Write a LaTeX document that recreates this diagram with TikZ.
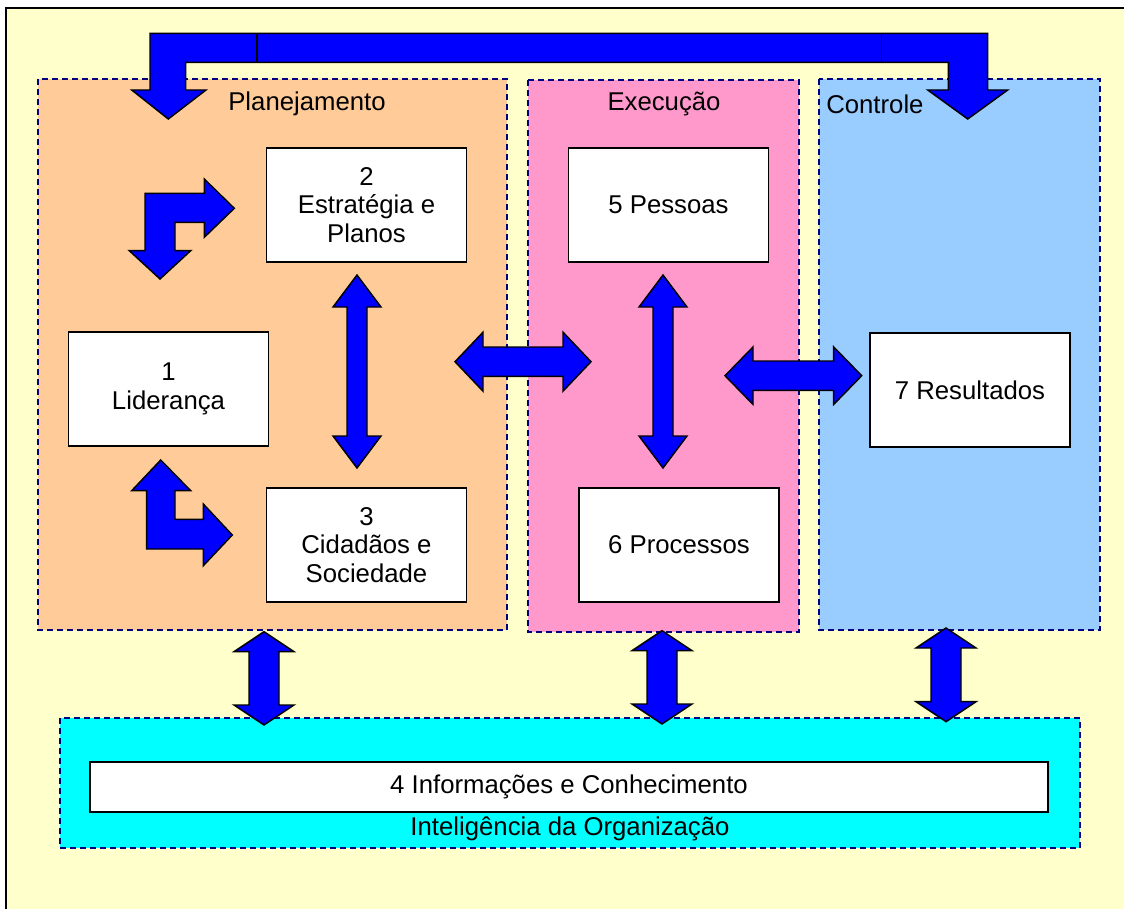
\documentclass[tikz,border=0pt]{standalone}
\usepackage{fontspec}
\setmainfont{Liberation Sans}
\usepackage{xcolor}
\usepackage{tikz}

\definecolor{fundo}{HTML}{FFFFCC}
\definecolor{planej}{HTML}{FFCC99}
\definecolor{exec}{HTML}{FF99CC}
\definecolor{contr}{HTML}{99CCFF}
\definecolor{intel}{HTML}{00FFFF}
\definecolor{borda}{HTML}{000080}
\definecolor{seta}{HTML}{0000FF}

% vertical double block arrow: x, top tip, bottom tip, shaft half, head half, head length
\newcommand{\vdarrow}[6]{%
  \draw[blockarrow] (#1,#2) -- (#1+#5,#2+#6) -- (#1+#4,#2+#6) -- (#1+#4,#3-#6)
    -- (#1+#5,#3-#6) -- (#1,#3) -- (#1-#5,#3-#6) -- (#1-#4,#3-#6)
    -- (#1-#4,#2+#6) -- (#1-#5,#2+#6) -- cycle;}
% horizontal double block arrow: y, left tip, right tip, shaft half, head half, head length
\newcommand{\hdarrow}[6]{%
  \draw[blockarrow] (#2,#1) -- (#2+#6,#1-#5) -- (#2+#6,#1-#4) -- (#3-#6,#1-#4)
    -- (#3-#6,#1-#5) -- (#3,#1) -- (#3-#6,#1+#5) -- (#3-#6,#1+#4)
    -- (#2+#6,#1+#4) -- (#2+#6,#1+#5) -- cycle;}

\begin{document}
\begin{tikzpicture}[x=0.75pt,y=-0.75pt,
    region/.style={draw=borda, line width=1.1pt, dash pattern=on 4.5pt off 3pt},
    blockarrow/.style={draw=black, fill=seta, line width=1.1pt, line join=miter},
    box/.style={draw=black, fill=white, line width=1.1pt, align=center,
      minimum width=150pt, minimum height=85.5pt, inner sep=0pt,
      font=\fontsize{19.3}{21.4}\selectfont},
    label/.style={font=\fontsize{19.3}{21.4}\selectfont, inner sep=0pt}]
    \clip (0,0) rectangle (1124,909);
    \draw[fill=fundo, line width=1.5pt] (6,8) rectangle (1140,925);

    % areas
    \draw[region, fill=planej] (38,79) rectangle (507,630);
    \draw[region, fill=exec] (528,80) rectangle (799,632);
    \draw[region, fill=contr] (819,79) rectangle (1100,630);
    \draw[region, fill=intel] (60,718) rectangle (1080,848);

    % arrow over the top
    \draw[blockarrow] (150,33.3) -- (987.7,33.3) -- (987.7,90) -- (1007.7,90)
      -- (967.7,119) -- (927.7,90) -- (948.3,90) -- (948.3,62.3) -- (185.7,62.3)
      -- (185.7,90) -- (206,90) -- (168.3,119) -- (131.7,90) -- (150,90) -- cycle;
    \draw[line width=1.1pt] (257,33.3) -- (257,62.3);
    \draw[line width=1.1pt] (881.7,33.3) -- (881.7,62.3);

    \node[label] (planejamento) at (307,104) {Planejamento};
    \node[label] (execucao) at (664,104) {Execução};
    \node[label, anchor=west] (controle) at (826,104) {Controle};
    \node[label] (inteligencia) at (570,829) {Inteligência da Organização};

    % criteria
    \node[box] (lideranca) at (168.5,389) {1\\Liderança};
    \node[box] (estrategia) at (366.5,205) {2\\Estratégia e\\Planos};
    \node[box] (cidadaos) at (366.5,545) {3\\Cidadãos e\\Sociedade};
    \node[box, minimum width=718.5pt, minimum height=37.5pt] (informacoes) at (569,787) {4 Informações e Conhecimento};
    \node[box] (pessoas) at (668.5,205) {5 Pessoas};
    \node[box] (processos) at (679,545) {6 Processos};
    \node[box] (resultados) at (970,390) {7 Resultados};

    % bent arrows at Lideranca
    \draw[blockarrow] (145,193.3) -- (204.3,193.3) -- (204.3,179) -- (234.3,208.3)
      -- (204.3,237.3) -- (204.3,222.3) -- (175,222.3) -- (175,250.7) -- (190.7,250.7)
      -- (160,279) -- (129.3,250.7) -- (145,250.7) -- cycle;
    \draw[blockarrow] (160.7,460) -- (190.7,490.7) -- (175,490.7) -- (175,519.3)
      -- (203.3,519.3) -- (203.3,504) -- (232.3,535) -- (203.3,565.7) -- (203.3,549)
      -- (146.7,549) -- (146.7,490.7) -- (131.7,490.7) -- cycle;

    % double arrows
    \vdarrow{357}{275}{468}{10}{24}{32}
    \vdarrow{663}{275}{468}{10}{24}{32}
    \hdarrow{361.7}{455}{591}{14.7}{29.5}{28}
    \hdarrow{375.7}{725}{861.7}{14.7}{28.7}{28}
    \vdarrow{264}{631.7}{725}{15}{30}{20}
    \vdarrow{662}{630.7}{724}{15}{30}{20}
    \vdarrow{946}{628}{721.7}{15}{30}{20}
\end{tikzpicture}
\end{document}
